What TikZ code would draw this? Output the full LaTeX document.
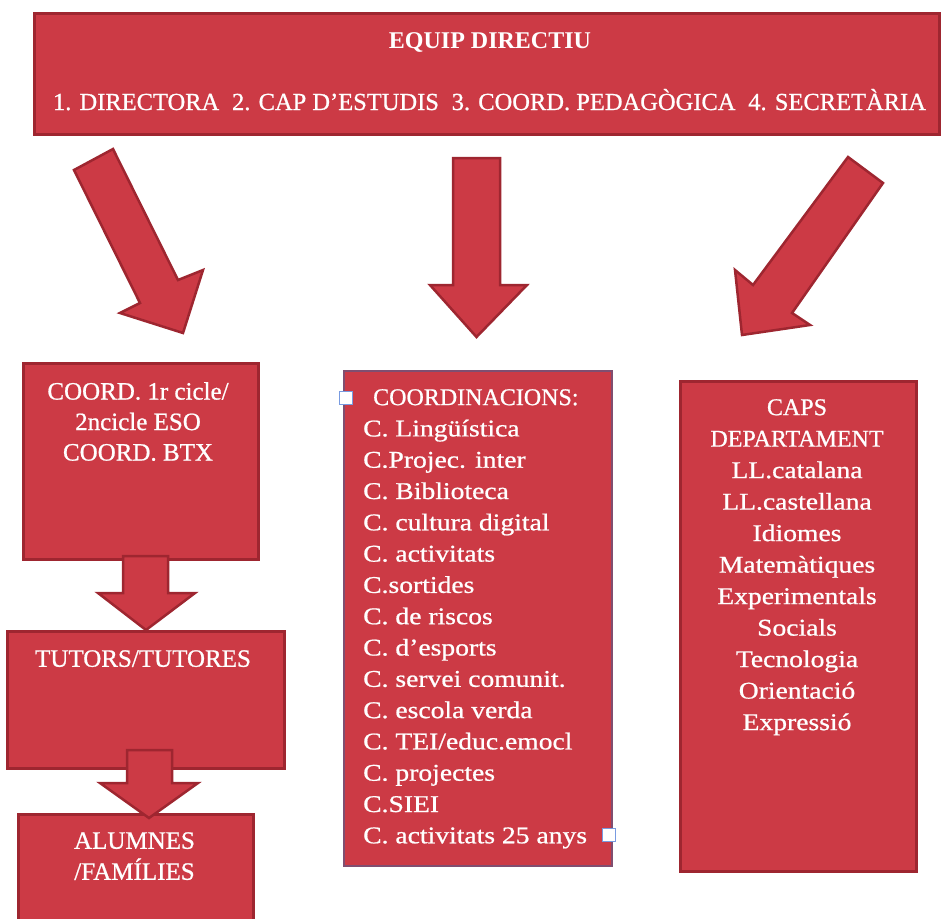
\documentclass[tikz,border=0pt]{standalone}
\usepackage{fontspec}
\setmainfont{Liberation Serif}
\newfontfamily\cambr[Ligatures=TeX,FakeStretch=1.15,FakeBold=0.8]{Liberation Serif}
\newfontfamily\capsf[Ligatures=TeX,FakeBold=0.8]{Liberation Serif}
\usepackage{tikz}
\usetikzlibrary{positioning}
\definecolor{boxred}{RGB}{204,58,69}
\definecolor{boxrim}{RGB}{158,38,48}
\definecolor{selrim}{RGB}{128,78,112}
\definecolor{handblue}{RGB}{120,155,225}

\begin{document}
\begin{tikzpicture}[x=1pt,y=-1pt,
	redbox/.style={draw=boxrim,line width=3,fill=boxred,inner sep=0,anchor=north west},
	bigarrow/.style={draw=boxrim,line width=2.5,fill=boxred,line join=miter},
	boxtxt/.style={text=white,inner sep=0,font=\cambr\fontsize{24}{31.3}\selectfont},
	handle/.style={draw=handblue,fill=white,line width=1,minimum size=13,inner sep=0}]
	\useasboundingbox (0,0) rectangle (941,918);

	% equip directiu
	\node[redbox,minimum width=905,minimum height=121] (equip) at (33,12) {};
	\node[text=white,inner sep=0,anchor=base,font=\bfseries\fontsize{24}{28}\selectfont] (eqtitle) at (490,48) {EQUIP DIRECTIU};
	\node[text=white,inner sep=0,anchor=base,font=\capsf\fontsize{24.5}{28}\selectfont] (eqroles) at (489.5,110)
		{\makebox[873pt]{1. DIRECTORA\hfill 2. CAP D'ESTUDIS\hfill 3. COORD. PEDAGÒGICA\hfill 4. SECRETÀRIA}};

	% three arrows out of the top box
	\draw[bigarrow] (74,170) -- (113,149) -- (178,280) -- (203,270) -- (183,333) -- (120,313) -- (140,303) -- cycle;
	\draw[bigarrow] (453,158) -- (500,158) -- (500,285) -- (527,285) -- (476.5,337) -- (430,285) -- (453,285) -- cycle;
	\draw[bigarrow] (848,157) -- (883,183) -- (792,313) -- (810,325) -- (742,335) -- (735,270) -- (753,285) -- cycle;

	% left column
	\node[redbox,minimum width=235,minimum height=196] (cicle) at (22,362) {};
	\node[boxtxt,anchor=north,align=center,font=\capsf\fontsize{25}{30.5}\selectfont] (cicletxt) at (138,382)
		{COORD. 1r cicle/\\2ncicle ESO\\COORD. BTX};
	\node[redbox,minimum width=277,minimum height=137] (tutors) at (6,630) {};
	\node[boxtxt,anchor=north,font=\capsf\fontsize{25}{30}\selectfont] (tutorstxt) at (143,650) {TUTORS/TUTORES};
	\draw[bigarrow] (123,556) -- (168,556) -- (168,593) -- (195,593) -- (146,630) -- (98,593) -- (123,593) -- cycle;
	\node[redbox,minimum width=235,minimum height=115] (alumnes) at (17,813) {};
	\node[boxtxt,anchor=north,align=center,font=\capsf\fontsize{25}{31}\selectfont] (alumnestxt) at (134.5,832)
		{ALUMNES\\/FAMÍLIES};
	\draw[bigarrow] (127,750) -- (172,750) -- (172,783) -- (198,783) -- (149,818) -- (100,783) -- (127,783) -- cycle;

	% coordinacions
	\node[redbox,draw=selrim,line width=2,minimum width=268,minimum height=495] (coord) at (343,370) {};
	\node[boxtxt,anchor=north west,align=left] (coordtxt) at (363,389)
		{\hspace*{10pt}{\capsf COORDINACIONS:}\\
		C. Lingüística\\
		C.Projec. inter\\
		C. Biblioteca\\
		C. cultura digital\\
		C. activitats\\
		C.sortides\\
		C. de riscos\\
		C. d'esports\\
		C. servei comunit.\\
		C. escola verda\\
		C. TEI/educ.emocl\\
		C. projectes\\
		C.SIEI\\
		C. activitats 25 anys};
	\node[handle] (hndnw) at (346,398) {};
	\node[handle] (hndse) at (609,835) {};

	% caps de departament
	\node[redbox,minimum width=236,minimum height=490] (caps) at (679,380) {};
	\node[boxtxt,anchor=north,align=center,font=\cambr\fontsize{24}{31.5}\selectfont] (capstxt) at (797,399)
		{{\capsf CAPS}\\
		{\capsf DEPARTAMENT}\\
		LL.catalana\\
		LL.castellana\\
		Idiomes\\
		Matemàtiques\\
		Experimentals\\
		Socials\\
		Tecnologia\\
		Orientació\\
		Expressió};
\end{tikzpicture}
\end{document}
